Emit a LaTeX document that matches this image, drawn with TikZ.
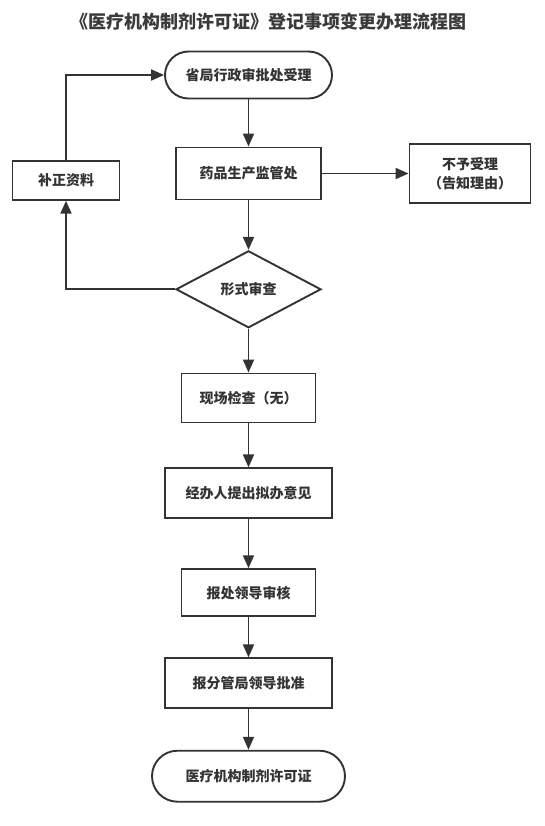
\documentclass[tikz,border=0pt]{standalone}
\usepackage{fontspec}
\setmainfont{Noto Sans CJK SC}
\usetikzlibrary{shapes.geometric,arrows.meta}
\definecolor{ln}{HTML}{333333}
\definecolor{tt}{HTML}{3A3A3A}
\begin{document}
\begin{tikzpicture}[x=1pt,y=-1pt,
  box/.style={draw=ln, line width=1.9pt, fill=white, text=ln,
    font=\bfseries\fontsize{14pt}{19pt}\selectfont, align=center, inner sep=0pt},
  term/.style={box, rounded corners=#1},
  dia/.style={box, diamond, aspect=1.88},
  conn/.style={draw=ln, line width=1.9pt, -{Triangle[length=13pt,width=11pt]}},
  plain/.style={draw=ln, line width=1.9pt}]
\useasboundingbox (0,0) rectangle (544,826);
\node[text=tt, font=\bfseries\fontsize{18pt}{20pt}\selectfont] (title) at (268,22) {《医疗机构制剂许可证》登记事项变更办理流程图};
\node[term=23.5pt, minimum width=167pt, minimum height=47pt] (s1) at (248.5,75) {省局行政审批处受理};
\node[box, minimum width=145pt, minimum height=52pt] (s2) at (248.5,173.5) {药品生产监管处};
\node[box, minimum width=121pt, minimum height=59pt] (rej) at (470,173.5) {不予受理\\（告知理由）};
\node[box, minimum width=107pt, minimum height=39pt] (bz) at (66,180.3) {补正资料};
\node[dia, minimum width=145pt, minimum height=77pt] (d) at (248.5,289.3) {形式审查};
\node[box, minimum width=134pt, minimum height=49pt] (xc) at (248.5,398) {现场检查（无）};
\node[box, minimum width=167pt, minimum height=50pt] (jb) at (248.5,493.3) {经办人提出拟办意见};
\node[box, minimum width=134pt, minimum height=47pt] (bc) at (248.5,592.7) {报处领导审核};
\node[box, minimum width=167pt, minimum height=50pt] (bf) at (248.5,683.3) {报分管局领导批准};
\node[term=25.5pt, minimum width=193pt, minimum height=51pt] (fin) at (248.5,776.2) {医疗机构制剂许可证};
\draw[conn] (s1) -- (s2);
\draw[conn] (s2) -- (rej);
\draw[conn] (s2) -- (d);
\draw[conn] (d.west) -| (bz.south);
\draw[conn] (bz.north) |- (s1.west);
\draw[conn] (d) -- (xc);
\draw[conn] (xc) -- (jb);
\draw[conn] (jb) -- (bc);
\draw[conn] (bc) -- (bf);
\draw[conn] (bf) -- (fin);
\end{tikzpicture}
\end{document}
